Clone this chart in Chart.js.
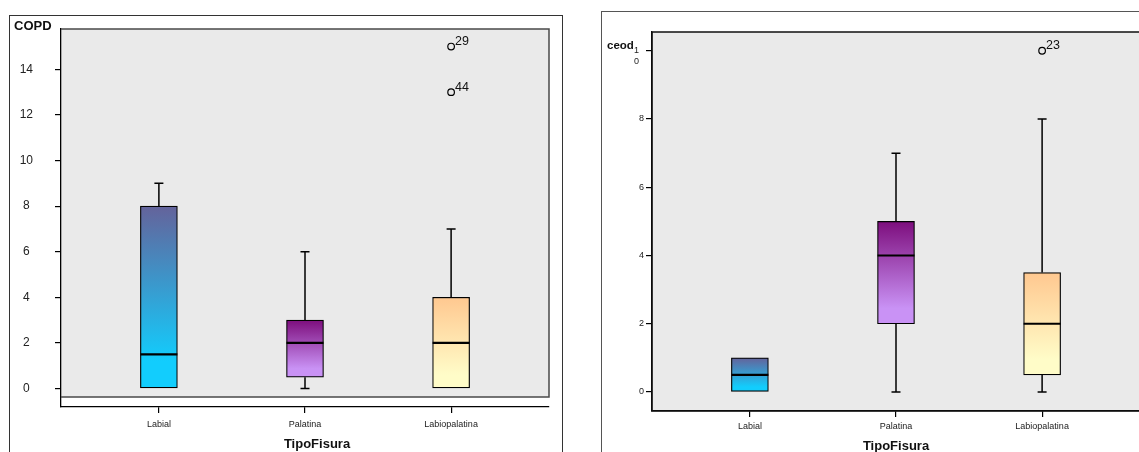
<!DOCTYPE html>
<html>
<head>
<meta charset="utf-8">
<script src="https://cdn.jsdelivr.net/npm/chart.js@4.4.1/dist/chart.umd.min.js"></script>
<style>
  html, body { margin: 0; padding: 0; background: #fff; overflow: hidden; width: 1139px; height: 452px; }
  .frame { position: absolute; border: 1px solid #333; border-bottom: none; }
  #leftFrame { left: 9px; top: 15px; width: 552px; height: 440px; }
  #rightFrame { left: 601px; top: 11px; width: 560px; height: 445px; border-right: none; border-color: #555; }
  canvas { display: block; }
</style>
</head>
<body>
<div class="frame" id="leftFrame"><canvas id="copdChart" width="552" height="436"></canvas></div>
<div class="frame" id="rightFrame"><canvas id="ceodChart" width="560" height="440"></canvas></div>
<script>
const categories = ['Labial', 'Palatina', 'Labiopalatina'];

// COPD boxplot
const copdMin    = [0, 0, 0];
const copdQ1     = [0, 0.5, 0];
const copdMedian = [1.5, 2, 2];
const copdQ3     = [8, 3, 4];
const copdMax    = [9, 6, 7];
const copdOutlierCat   = [3, 3];
const copdOutlierValue = [15, 13];
const copdOutlierCase  = ['29', '44'];
const copdTicks = [0, 2, 4, 6, 8, 10, 12, 14];

// ceod boxplot
const ceodMin    = [0, 0, 0];
const ceodQ1     = [0, 2, 0.5];
const ceodMedian = [0.5, 4, 2];
const ceodQ3     = [1, 5, 3.5];
const ceodMax    = [1, 7, 8];
const ceodOutlierCat   = [3];
const ceodOutlierValue = [10];
const ceodOutlierCase  = ['23'];
const ceodTicks = [0, 2, 4, 6, 8, 10];

const boxTop    = ['#64639b', '#7d0e7d', '#ffc890'];
const boxBottom = ['#12cdfd', '#c992f5', '#fffcc8'];

const FONT = "'Liberation Sans', Arial, sans-serif";

function gradientFor(ctx, s) {
  const i = ctx.dataIndex;
  const chart = ctx.chart;
  if (!chart.chartArea || i === undefined) return boxTop[i || 0];
  const y = chart.scales.y;
  const g = chart.ctx.createLinearGradient(0, y.getPixelForValue(s.q3[i]), 0, y.getPixelForValue(s.q1[i]));
  g.addColorStop(0, boxTop[i]);
  g.addColorStop(0.85, boxBottom[i]);
  g.addColorStop(1, boxBottom[i]);
  return g;
}

function makeExtras(s, st) {
  return {
    id: 'boxExtras',
    beforeDraw(chart) {
      const { ctx, chartArea: a } = chart;
      ctx.save();
      ctx.fillStyle = '#eaeaea';
      ctx.fillRect(a.left, a.top, a.right - a.left, a.bottom - st.gap - a.top);
      ctx.restore();
    },
    beforeDatasetsDraw(chart) {
      const { ctx, chartArea: a } = chart;
      const b = a.bottom - st.gap;
      ctx.save();
      ctx.strokeStyle = st.plotBorder;
      ctx.lineWidth = 1.5;
      ctx.beginPath();
      if (st.gap > 0) {
        ctx.moveTo(a.left, a.top);
        ctx.lineTo(a.right, a.top);
        ctx.lineTo(a.right, b);
        ctx.lineTo(a.left, b);
      } else {
        ctx.rect(a.left, a.top, a.right - a.left, b - a.top);
      }
      ctx.stroke();
      ctx.restore();
    },
    afterDatasetsDraw(chart) {
      const { ctx } = chart;
      const y = chart.scales.y;
      const bars = chart.getDatasetMeta(0).data;
      ctx.save();
      ctx.strokeStyle = '#000';
      categories.forEach((c, i) => {
        const cx = bars[i].x, half = bars[i].width / 2;
        const yQ1 = y.getPixelForValue(s.q1[i]), yQ3 = y.getPixelForValue(s.q3[i]);
        ctx.lineWidth = 1.5;
        ctx.beginPath();
        if (s.max[i] > s.q3[i]) {
          const yMax = y.getPixelForValue(s.max[i]);
          ctx.moveTo(cx, yQ3); ctx.lineTo(cx, yMax);
          ctx.moveTo(cx - 4.5, yMax); ctx.lineTo(cx + 4.5, yMax);
        }
        if (s.min[i] < s.q1[i]) {
          const yMin = y.getPixelForValue(s.min[i]);
          ctx.moveTo(cx, yQ1); ctx.lineTo(cx, yMin);
          ctx.moveTo(cx - 4.5, yMin); ctx.lineTo(cx + 4.5, yMin);
        }
        ctx.stroke();
        ctx.lineWidth = 2.2;
        ctx.beginPath();
        const yMed = y.getPixelForValue(s.median[i]);
        ctx.moveTo(cx - half, yMed); ctx.lineTo(cx + half, yMed);
        ctx.stroke();
      });
      // case numbers next to outliers
      ctx.fillStyle = '#111';
      ctx.font = '12.5px ' + FONT;
      ctx.textAlign = 'left';
      ctx.textBaseline = 'alphabetic';
      chart.getDatasetMeta(1).data.forEach((p, i) => {
        ctx.fillText(s.outCase[i], p.x + 4, p.y - 1.5);
      });
      ctx.restore();
    },
    afterDraw(chart) {
      const { ctx, chartArea: a } = chart;
      ctx.save();
      ctx.fillStyle = '#111';
      ctx.textBaseline = 'middle';
      ctx.font = 'bold ' + st.yCaptionSize + 'px ' + FONT;
      ctx.textAlign = 'left';
      ctx.fillText(st.yCaption, a.left + st.yCapDx, a.top + st.yCapDy);
      ctx.font = 'bold 13px ' + FONT;
      ctx.textAlign = 'center';
      ctx.fillText('TipoFisura', (a.left + a.right) / 2 + st.xCapDx, a.bottom + st.xCapDy);
      ctx.restore();
    }
  };
}

function boxChart(id, s, st) {
  return new Chart(document.getElementById(id), {
    type: 'bar',
    data: {
      datasets: [{
        type: 'bar',
        data: categories.map((c, i) => ({ x: i + 1, y: [s.q1[i], s.q3[i]] })),
        backgroundColor: ctx => gradientFor(ctx, s),
        borderColor: '#000',
        borderWidth: 1.2,
        borderSkipped: false,
        barThickness: 37
      }, {
        type: 'scatter',
        data: s.outCat.map((c, i) => ({ x: c, y: s.outVal[i] })),
        pointStyle: 'circle',
        pointRadius: 3.3,
        pointBorderColor: '#000',
        pointBorderWidth: 1.2,
        pointBackgroundColor: 'rgba(0,0,0,0)'
      }]
    },
    options: {
      responsive: false,
      animation: false,
      layout: { autoPadding: false, padding: { top: st.padTop, right: st.padRight, left: 0, bottom: 0 } },
      plugins: { legend: { display: false }, tooltip: { enabled: false } },
      scales: {
        x: {
          type: 'linear',
          min: 0.33,
          max: 3.67,
          offset: false,
          afterBuildTicks: sc => { sc.ticks = categories.map((c, i) => ({ value: i + 1 })); },
          afterFit: sc => { sc.height = st.xHeight; sc.paddingLeft = 0; sc.paddingRight = 0; },
          grid: { offset: false, drawOnChartArea: false, drawTicks: true, tickLength: 6, color: '#000', lineWidth: 1.2 },
          border: { display: true, color: '#000', width: 1.3 },
          ticks: {
            callback: v => categories[Math.round(v) - 1],
            font: { family: FONT, size: 9 },
            color: '#222',
            padding: st.xPad,
            maxRotation: 0,
            autoSkip: false
          }
        },
        y: {
          type: 'linear',
          min: st.yMin,
          max: st.yMax,
          afterBuildTicks: sc => { sc.ticks = s.ticks.map(v => ({ value: v })); },
          afterFit: sc => { sc.width = st.yWidth; sc.paddingTop = 0; sc.paddingBottom = 0; },
          grid: { drawOnChartArea: false, drawTicks: true, tickLength: 6, color: '#000', lineWidth: 1.2 },
          border: { display: true, color: '#000', width: 1.3 },
          ticks: {
            font: { family: FONT, size: st.yFont },
            color: '#222',
            padding: st.yPad,
            crossAlign: st.yAlign,
            callback: st.yLabel
          }
        }
      }
    },
    plugins: [makeExtras(s, st)]
  });
}

document.addEventListener('DOMContentLoaded', function () {
  boxChart('copdChart', {
    min: copdMin, q1: copdQ1, median: copdMedian, q3: copdQ3, max: copdMax,
    outCat: copdOutlierCat, outVal: copdOutlierValue, outCase: copdOutlierCase, ticks: copdTicks
  }, {
    padTop: 13, padRight: 13, xHeight: 45, yWidth: 51,
    yMin: -0.81, yMax: 15.77, yFont: 12, yPad: 22, yAlign: 'center',
    yLabel: v => String(v),
    xPad: 6, gap: 10, plotBorder: '#4a4a4a',
    yCaption: 'COPD', yCaptionSize: 13, yCapDx: -47, yCapDy: -3,
    xCapDx: 12, xCapDy: 37
  });

  // the "10" label wraps onto two lines in the original, next to the caption
  boxChart('ceodChart', {
    min: ceodMin, q1: ceodQ1, median: ceodMedian, q3: ceodQ3, max: ceodMax,
    outCat: ceodOutlierCat, outVal: ceodOutlierValue, outCase: ceodOutlierCase, ticks: ceodTicks
  }, {
    padTop: 20, padRight: 22, xHeight: 41, yWidth: 50,
    yMin: -0.557, yMax: 10.55, yFont: 9, yPad: 2, yAlign: 'near',
    yLabel: v => (v === 10 ? ['', '1  ', '0  '] : String(v)),
    xPad: 4, gap: 0, plotBorder: '#111',
    yCaption: 'ceod', yCaptionSize: 11.5, yCapDx: -45, yCapDy: 14,
    xCapDx: 0, xCapDy: 35
  });
});
</script>
</body>
</html>
